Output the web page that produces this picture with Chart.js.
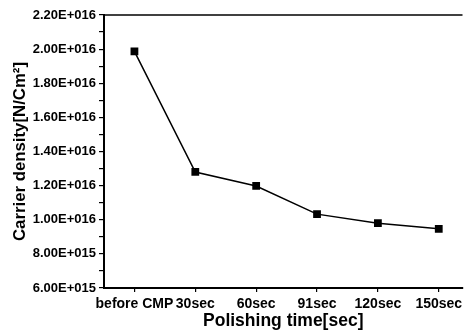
<!DOCTYPE html>
<html>
<head>
<meta charset="utf-8">
<script src="https://cdn.jsdelivr.net/npm/chart.js@4/dist/chart.umd.min.js"></script>
<style>
html,body{margin:0;padding:0;background:#fff;}
#wrap{width:468px;height:332px;position:relative;}
</style>
</head>
<body>
<div id="wrap"><canvas id="c" width="468" height="332"></canvas></div>
<script>
const categories = ['before CMP', '30sec', '60sec', '91sec', '120sec', '150sec'];
const carrierDensity = [1.987e16, 1.280e16, 1.198e16, 1.033e16, 0.980e16, 0.947e16];
const yMin = 6e15, yMax = 2.2e16, yStep = 1e15;
const xTitle = 'Polishing time[sec]';
const yTitle = 'Carrier density[N/Cm\u00B2]';

function sciLabel(v) {
  if (v === 0) return '0.00E+000';
  let e = Math.floor(Math.log10(v) + 1e-9);
  let m = v / Math.pow(10, e);
  let es = String(e).padStart(3, '0');
  return m.toFixed(2) + 'E+' + es;
}

const font = 'Liberation Sans, Arial, Helvetica, sans-serif';

const topLine = {
  id: 'topLine',
  afterDraw(chart) {
    const {ctx, chartArea} = chart;
    ctx.save();
    ctx.strokeStyle = '#000';
    ctx.lineWidth = 1.5;
    ctx.beginPath();
    ctx.moveTo(chartArea.left, chartArea.top);
    ctx.lineTo(chartArea.right, chartArea.top);
    ctx.stroke();
    ctx.restore();
  }
};

new Chart(document.getElementById('c'), {
  type: 'line',
  data: {
    datasets: [{
      data: carrierDensity.map((v, i) => ({x: i, y: v})),
      borderColor: '#000',
      borderWidth: 1.5,
      backgroundColor: '#000',
      pointStyle: 'rect',
      pointRadius: 5.5,
      pointBorderWidth: 0,
      pointBackgroundColor: '#000',
      tension: 0
    }]
  },
  options: {
    responsive: false,
    animation: false,
    layout: {padding: {top: 15, right: 1, left: 0, bottom: 0}},
    plugins: {legend: {display: false}, tooltip: {enabled: false}},
    scales: {
      x: {
        type: 'linear',
        min: -0.5,
        max: 5.39,
        afterBuildTicks(scale) {
          scale.ticks = categories.map((c, i) => ({value: i}));
        },
        afterFit(scale) { scale.height = 44; },
        grid: {drawOnChartArea: false, tickLength: 4, color: '#000', lineWidth: 1.2},
        border: {display: true, color: '#000', width: 2},
        ticks: {
          color: '#000',
          padding: 4,
          maxRotation: 0,
          autoSkip: false,
          font: {family: font, size: 14, weight: 'bold'},
          callback: (v) => categories[v] ?? ''
        },
        title: {
          display: true,
          text: xTitle,
          color: '#000',
          padding: {top: 0, bottom: 0},
          font: {family: font, size: 17.5, weight: 'bold'}
        }
      },
      y: {
        min: yMin,
        max: yMax,
        afterFit(scale) { scale.width = 104; },
        grid: {drawOnChartArea: false, tickLength: 5, color: '#000', lineWidth: 1.2},
        border: {display: true, color: '#000', width: 2},
        ticks: {
          stepSize: yStep,
          color: '#000',
          padding: 3,
          autoSkip: false,
          font: {family: font, size: 13, weight: 'bold'},
          callback: (v) => (Math.round((v - yMin) / yStep) % 2 === 0) ? sciLabel(v) : ''
        },
        title: {
          display: true,
          text: yTitle,
          color: '#000',
          padding: {top: 10, bottom: 0},
          font: {family: font, size: 16.8, weight: 'bold'}
        }
      }
    }
  },
  plugins: [topLine]
});
</script>
</body>
</html>
